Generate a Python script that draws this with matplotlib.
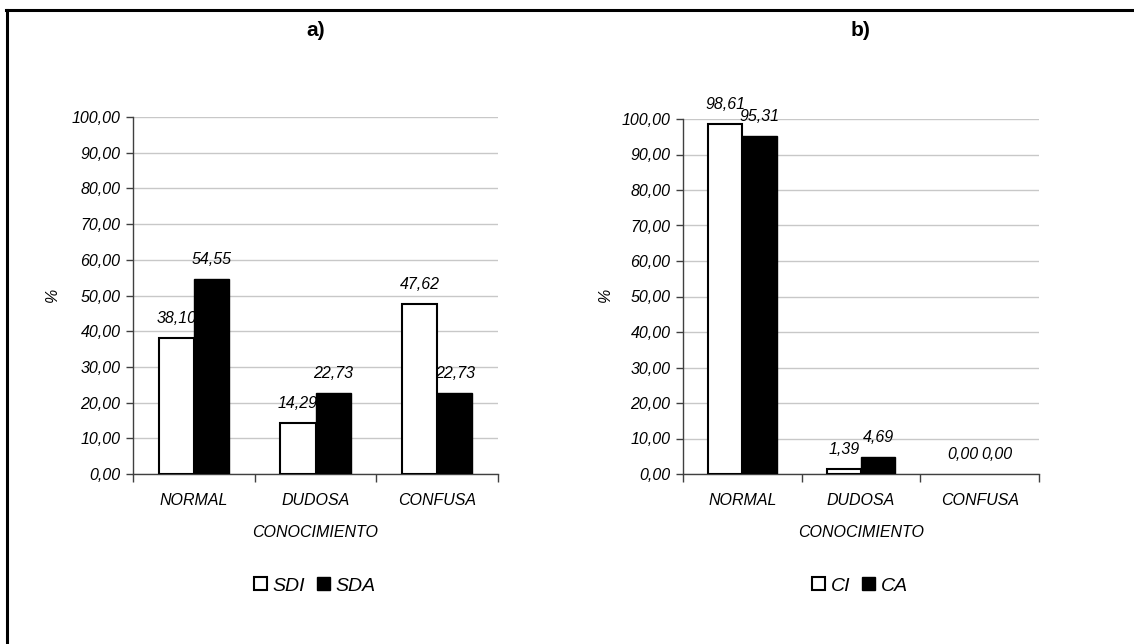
import numpy as np
import matplotlib
matplotlib.use("Agg")
import matplotlib.pyplot as plt
from matplotlib.lines import Line2D

# data
categories = ["NORMAL", "DUDOSA", "CONFUSA"]
series_a = ["SDI", "SDA"]
values_a_white = [38.10, 14.29, 47.62]
values_a_black = [54.55, 22.73, 22.73]
series_b = ["CI", "CA"]
values_b_white = [98.61, 1.39, 0.00]
values_b_black = [95.31, 4.69, 0.00]
yticks = np.arange(0, 101, 10)

W, H = 1134, 644
plt.rcParams['font.family'] = ['Liberation Sans', 'DejaVu Sans']

fig = plt.figure(figsize=(W / 100, H / 100), dpi=100, facecolor='white')

def px(l, t, r, b):
    return [l / W, 1 - b / H, (r - l) / W, (b - t) / H]

def fmt(v):
    return ("%.2f" % v).replace(".", ",")

def panel(rect, title, white, black, names, ylab_x, leg_x):
    ax = fig.add_axes(px(*rect))
    x = np.arange(len(categories)) + 0.5
    w = 0.29
    b1 = ax.bar(x - w / 2, white, w, color='white', edgecolor='black', linewidth=1.5, zorder=3, label=names[0])
    b2 = ax.bar(x + w / 2, black, w, color='black', edgecolor='black', linewidth=1.0, zorder=3, label=names[1])
    # zero-height bars show nothing in the original
    for bars in (b1, b2):
        for p in bars.patches:
            if p.get_height() == 0:
                p.set_linewidth(0)
    for xs, vals in ((x - w / 2, white), (x + w / 2, black)):
        for xi, v in zip(xs, vals):
            ax.annotate(fmt(v), (xi, v), xytext=(0, 14), textcoords='offset points',
                        ha='center', va='center', fontsize=11.5, style='italic', zorder=2)
    ax.set_xlim(0, len(categories))
    ax.set_ylim(0, 100)
    ax.set_yticks(yticks)
    ax.set_yticklabels([fmt(v) for v in yticks], fontsize=11.5, style='italic')
    ax.set_xticks(np.arange(len(categories) + 1))
    ax.set_xticklabels([])
    ax.set_xticks(x, minor=True)
    ax.set_xticklabels(categories, minor=True, fontsize=11.5, style='italic')
    ax.tick_params(axis='x', which='major', length=6, width=1, color='#404040', direction='out')
    ax.tick_params(axis='x', which='minor', length=0, pad=14)
    ax.tick_params(axis='y', length=5, width=1, color='#404040', pad=4)
    ax.grid(axis='y', color='#c8c8c8', linewidth=1, zorder=0)
    ax.set_axisbelow(True)
    for s in ('top', 'right'):
        ax.spines[s].set_visible(False)
    for s in ('left', 'bottom'):
        ax.spines[s].set_color('#404040')
        ax.spines[s].set_linewidth(1)
    ax.set_xlabel("CONOCIMIENTO", fontsize=11.5, style='italic', labelpad=12)
    fig.text(ylab_x / W, 1 - 295 / H, "%", rotation=90, ha='center', va='center', fontsize=11.5, style='italic')
    fig.text((rect[0] + rect[2]) / 2 / W, 1 - 30 / H, title, ha='center', va='center', fontsize=15, fontweight='bold')
    fig.legend(handles=[b1, b2], loc='center', bbox_to_anchor=(leg_x / W, 1 - 586 / H), ncol=2,
               frameon=False, prop={'style': 'italic', 'size': 14},
               handlelength=0.65, handleheight=0.65, handletextpad=0.3, columnspacing=0.6)
    return ax

panel((133, 117, 498, 474), "a)", values_a_white, values_a_black, series_a, 52, 315)
panel((683, 119, 1039, 474), "b)", values_b_white, values_b_black, series_b, 605, 860)

# outer frame (left and top only)
fig.add_artist(Line2D([7 / W, 7 / W], [0, 1 - 10 / H], color='black', linewidth=2.2, transform=fig.transFigure))
fig.add_artist(Line2D([6 / W, 1], [1 - 10 / H, 1 - 10 / H], color='black', linewidth=2.2, transform=fig.transFigure))

fig.savefig("out.png", dpi=100, facecolor='white')
